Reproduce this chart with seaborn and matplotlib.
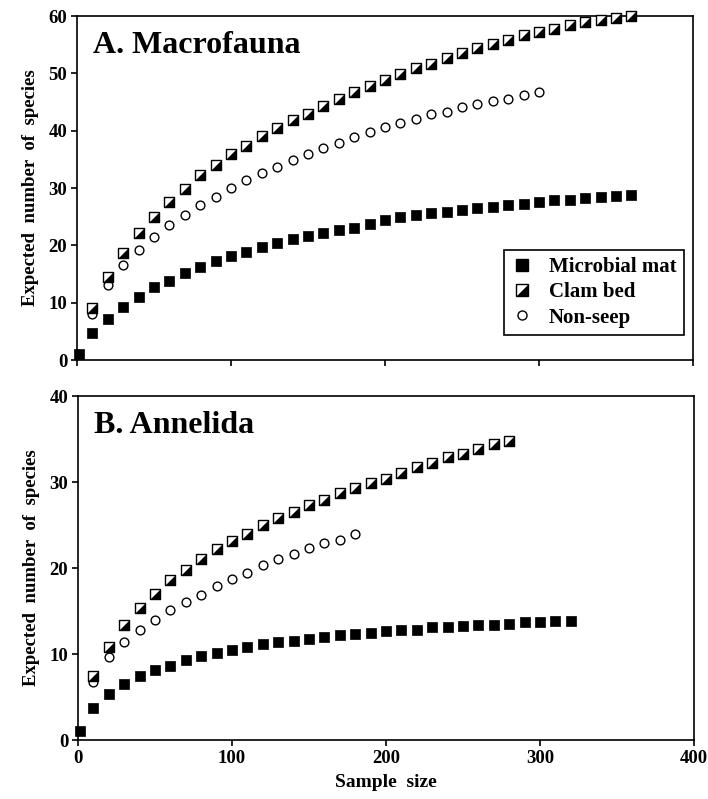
import numpy as np
import pandas as pd
import matplotlib
matplotlib.use("Agg")
import matplotlib.pyplot as plt
import seaborn as sns

# sample sizes (rarefaction steps)
n_top_mat = [1] + list(range(10, 361, 10))
n_top_clam = list(range(10, 361, 10))
n_top_non = list(range(10, 301, 10))
n_bot_mat = [1] + list(range(10, 321, 10))
n_bot_clam = list(range(10, 281, 10))
n_bot_non = list(range(10, 181, 10))

# A. Macrofauna
top_mat = [1.0, 4.7, 7.2, 9.3, 11.0, 12.7, 13.7, 15.1, 16.3, 17.2, 18.1, 18.8, 19.7,
           20.4, 21.1, 21.6, 22.2, 22.7, 23.1, 23.7, 24.4, 24.9, 25.3, 25.6, 25.9,
           26.2, 26.5, 26.7, 27.0, 27.3, 27.6, 27.9, 28.0, 28.3, 28.5, 28.6, 28.8]
top_clam = [9.0, 14.5, 18.6, 22.1, 24.9, 27.6, 29.9, 32.2, 34.1, 35.9, 37.4, 39.1,
            40.5, 41.9, 43.0, 44.3, 45.5, 46.7, 47.8, 48.8, 49.9, 50.9, 51.7, 52.6,
            53.5, 54.4, 55.2, 55.9, 56.7, 57.3, 57.8, 58.4, 59.0, 59.3, 59.6, 60.0]
top_non = [8.1, 13.1, 16.6, 19.2, 21.4, 23.5, 25.3, 27.0, 28.5, 30.0, 31.4, 32.7,
           33.7, 34.9, 36.0, 36.9, 37.9, 38.9, 39.8, 40.6, 41.3, 42.1, 42.9, 43.3,
           44.1, 44.6, 45.2, 45.6, 46.2, 46.7]

# B. Annelida
bot_mat = [1.0, 3.7, 5.4, 6.5, 7.4, 8.1, 8.6, 9.3, 9.8, 10.1, 10.5, 10.8, 11.2, 11.4,
           11.5, 11.7, 12.0, 12.2, 12.3, 12.5, 12.7, 12.8, 12.8, 13.2, 13.2, 13.3,
           13.4, 13.4, 13.5, 13.7, 13.7, 13.9, 13.9]
bot_clam = [7.4, 10.8, 13.4, 15.3, 17.0, 18.6, 19.8, 21.0, 22.2, 23.2, 24.0, 25.0,
            25.8, 26.5, 27.3, 27.9, 28.7, 29.3, 29.9, 30.4, 31.0, 31.8, 32.2, 32.9,
            33.3, 33.9, 34.4, 34.8]
bot_non = [6.8, 9.7, 11.4, 12.8, 14.0, 15.1, 16.1, 16.9, 17.9, 18.7, 19.4, 20.3,
           21.0, 21.6, 22.3, 22.9, 23.3, 24.0]

habitats = ["Microbial mat", "Clam bed", "Non-seep"]


def make_df(n_mat, mat, n_clam, clam, n_non, non):
    return pd.concat([
        pd.DataFrame({"n": n_mat, "S": mat, "habitat": habitats[0]}),
        pd.DataFrame({"n": n_clam, "S": clam, "habitat": habitats[1]}),
        pd.DataFrame({"n": n_non, "S": non, "habitat": habitats[2]}),
    ], ignore_index=True)


df_top = make_df(n_top_mat, top_mat, n_top_clam, top_clam, n_top_non, top_non)
df_bot = make_df(n_bot_mat, bot_mat, n_bot_clam, bot_clam, n_bot_non, bot_non)

sns.set_style("ticks")
plt.rcParams["font.family"] = ["Liberation Serif", "DejaVu Serif"]
plt.rcParams["font.weight"] = "bold"
for k in ["text.color", "axes.labelcolor", "xtick.color", "ytick.color", "axes.edgecolor"]:
    plt.rcParams[k] = "black"

# lower-right black triangle for the half-filled clam bed marker
tri = [(-1, -1), (1, -1), (1, 1), (-1, -1)]
SQ = 62
CI = 40


def draw_panel(ax, df, title, ymax, yticks):
    mat = df[df.habitat == habitats[0]]
    clam = df[df.habitat == habitats[1]]
    non = df[df.habitat == habitats[2]]
    sns.scatterplot(data=non, x="n", y="S", marker="o", s=CI, facecolor="white",
                    edgecolor="black", linewidth=1.0, ax=ax, clip_on=False, zorder=3)
    sns.scatterplot(data=clam, x="n", y="S", marker="s", s=SQ, facecolor="white",
                    edgecolor="black", linewidth=1.0, ax=ax, clip_on=False, zorder=4)
    sns.scatterplot(data=clam, x="n", y="S", marker=tri, s=SQ, color="black",
                    linewidth=0, ax=ax, clip_on=False, zorder=5)
    sns.scatterplot(data=mat, x="n", y="S", marker="s", s=SQ, color="black",
                    linewidth=0.5, edgecolor="black", ax=ax, clip_on=False, zorder=4)
    ax.set_xlim(0, 400)
    ax.set_ylim(0, ymax)
    ax.set_xticks([0, 100, 200, 300, 400])
    ax.set_yticks(yticks)
    ax.set_ylabel("Expected  number  of  species", fontsize=13.5, fontweight="bold",
                  labelpad=7)
    ax.tick_params(direction="out", length=4, width=1.2, labelsize=13.5, pad=3)
    for sp in ax.spines.values():
        sp.set_linewidth(1.2)
        sp.set_visible(True)
    ax.text(0.026, 0.892, title, transform=ax.transAxes, fontsize=23,
            fontweight="bold", va="baseline", ha="left")


fig = plt.figure(figsize=(7.08, 7.99), dpi=100)
ax1 = fig.add_axes([0.1088, 0.5494, 0.870, 0.4305])
ax2 = fig.add_axes([0.1102, 0.0738, 0.870, 0.4305])

draw_panel(ax1, df_top, "A. Macrofauna", 60, [0, 10, 20, 30, 40, 50, 60])
draw_panel(ax2, df_bot, "B. Annelida", 40, [0, 10, 20, 30, 40])

ax1.set_xlabel("")
ax1.set_xticklabels([])
ax2.set_xlabel("Sample  size", fontsize=14, fontweight="bold", labelpad=5)

# legend with the overlaid half-filled square
h_mat = plt.Line2D([], [], ls="", marker="s", ms=8, mfc="black", mec="black")
h_sq = plt.Line2D([], [], ls="", marker="s", ms=8, mfc="white", mec="black", mew=1.0)
h_tri = plt.Line2D([], [], ls="", marker=tri, ms=8, mfc="black", mec="none")
h_non = plt.Line2D([], [], ls="", marker="o", ms=6.5, mfc="white", mec="black", mew=1.0)
leg = ax1.legend([h_mat, (h_sq, h_tri), h_non], habitats, loc="lower right",
                 bbox_to_anchor=(0.985, 0.073), borderaxespad=0, fontsize=15,
                 frameon=True, fancybox=False, edgecolor="black", framealpha=1,
                 handlelength=1.0, handletextpad=0.8, labelspacing=0.25,
                 borderpad=0.35)
leg.get_frame().set_linewidth(1.2)
if ax2.get_legend() is not None:
    ax2.get_legend().remove()

fig.savefig("out.png", dpi=100)
